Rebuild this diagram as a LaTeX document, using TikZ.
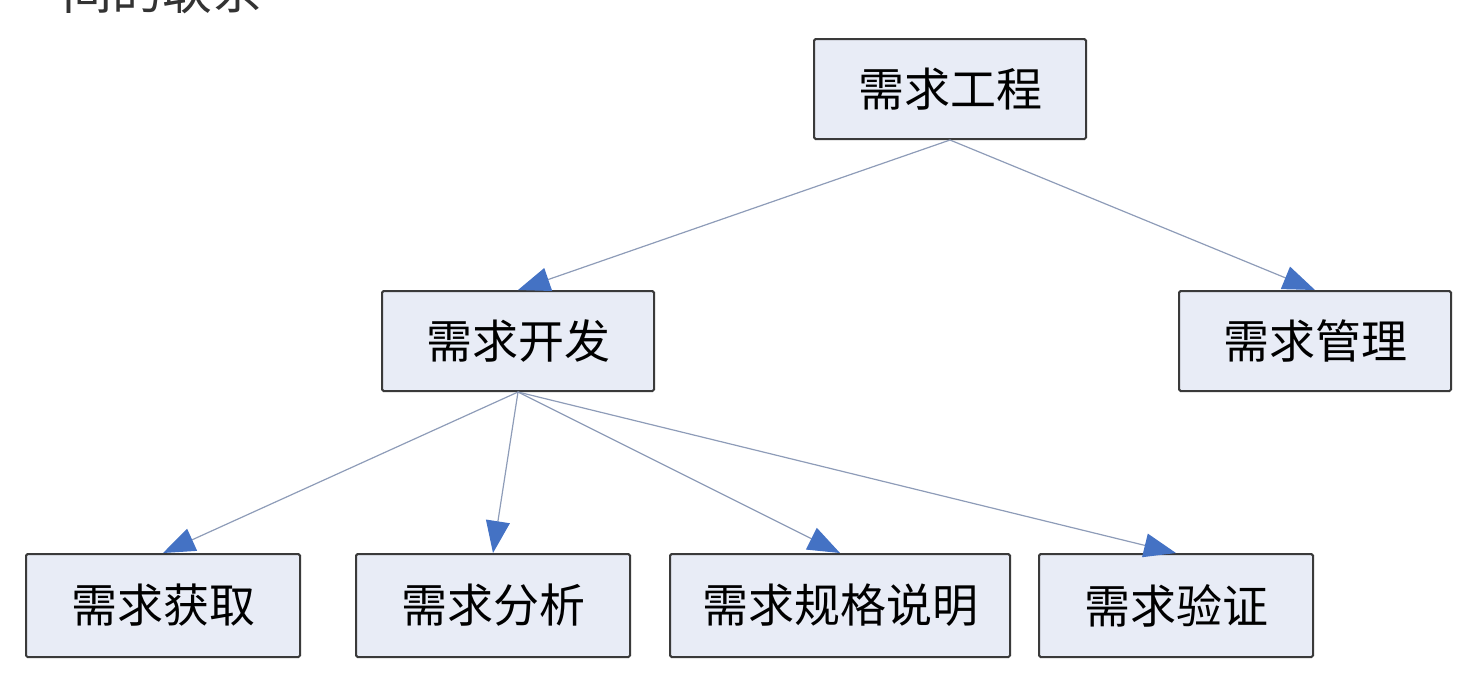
\documentclass[tikz,border=0pt]{standalone}
\usepackage{fontspec}
\setmainfont{Noto Sans CJK SC}
\usepackage{tikz}
\usetikzlibrary{arrows.meta, positioning}

\definecolor{boxfill}{HTML}{E8ECF6}
\definecolor{boxline}{HTML}{3A3A3A}
\definecolor{linkline}{HTML}{8E9CB8}
\definecolor{tipblue}{HTML}{4472C4}

\begin{document}
\begin{tikzpicture}[
        task/.style={draw=boxline, fill=boxfill, line width=1pt, rounded corners=0.8pt,
            minimum width=136pt, minimum height=50pt, inner sep=2pt,
            font=\fontsize{23}{28}\selectfont},
        leaf/.style={task, minimum width=137pt, minimum height=51.5pt},
        link/.style={draw=linkline, line width=0.6pt,
            -{Triangle[length=16pt, width=12pt, color=tipblue]}}
    ]

    \useasboundingbox (0,0) rectangle (739.5pt,-338.5pt);

    % Cut-off text line above the chart
    \node[anchor=base west, inner sep=0pt, text=black!80, font=\fontsize{25}{30}\selectfont]
        (caption) at (31pt,-4.5pt) {间的联系};

    % Root
    \node[task] (root) at (475pt,-44.5pt) {需求工程};

    % Second level
    \node[task, below left=75pt and 79pt of root] (dev) {需求开发};
    \node[task, below right=75pt and 45.5pt of root] (mgmt) {需求管理};

    % Third level
    \node[leaf, below left=80.5pt and 40pt of dev] (elicit) {需求获取};
    \node[leaf, right=27pt of elicit] (analysis) {需求分析};
    \node[leaf, minimum width=170pt, right=19pt of analysis] (spec) {需求规格说明};
    \node[leaf, right=13.5pt of spec] (verify) {需求验证};

    % Arrows
    \draw[link] (root.south) -- (dev.north);
    \draw[link] (root.south) -- (mgmt.north);
    \draw[link] (dev.south) -- (elicit.north);
    \draw[link] (dev.south) -- (analysis.north);
    \draw[link] (dev.south) -- (spec.north);
    \draw[link] (dev.south) -- (verify.north);

\end{tikzpicture}
\end{document}
